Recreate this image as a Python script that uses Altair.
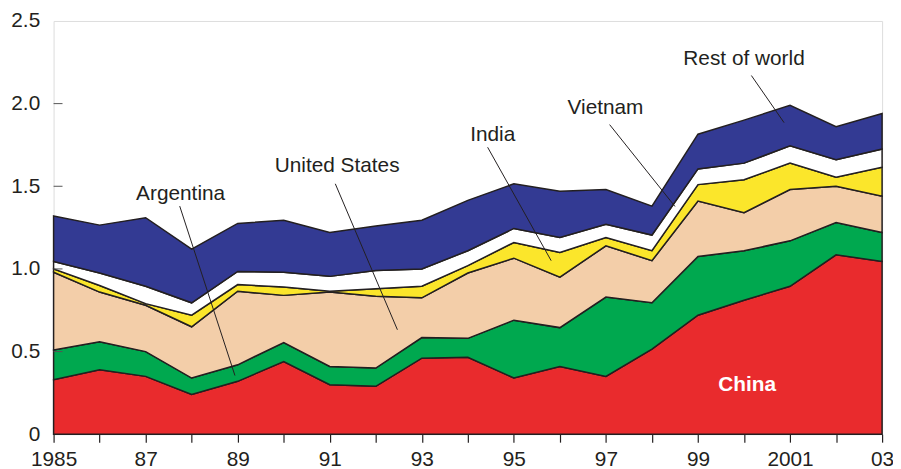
import altair as alt
import pandas as pd

years = list(range(1985, 2004))
series = ["China", "Argentina", "United States", "India", "Vietnam", "Rest of world"]
colors = ["#e92b2d", "#00a84f", "#f3cea9", "#fbe62b", "#ffffff", "#333a93"]

china = [0.33, 0.39, 0.35, 0.24, 0.32, 0.44, 0.30, 0.29, 0.46, 0.465, 0.34, 0.41, 0.35, 0.515, 0.72, 0.81, 0.895, 1.085, 1.045]
argentina = [0.18, 0.17, 0.15, 0.10, 0.10, 0.115, 0.11, 0.11, 0.125, 0.115, 0.35, 0.235, 0.48, 0.28, 0.355, 0.30, 0.275, 0.195, 0.175]
united_states = [0.47, 0.30, 0.28, 0.31, 0.445, 0.285, 0.45, 0.435, 0.24, 0.395, 0.375, 0.305, 0.31, 0.255, 0.335, 0.23, 0.31, 0.22, 0.22]
india = [0.02, 0.04, 0.01, 0.07, 0.04, 0.05, 0.005, 0.045, 0.07, 0.045, 0.095, 0.15, 0.05, 0.06, 0.10, 0.20, 0.16, 0.055, 0.175]
vietnam = [0.045, 0.075, 0.105, 0.075, 0.08, 0.09, 0.09, 0.11, 0.105, 0.09, 0.085, 0.09, 0.08, 0.095, 0.095, 0.10, 0.105, 0.105, 0.11]
rest_of_world = [0.275, 0.29, 0.415, 0.325, 0.29, 0.315, 0.265, 0.27, 0.295, 0.305, 0.27, 0.28, 0.21, 0.175, 0.21, 0.26, 0.245, 0.20, 0.215]

x_tick_labels = {1985: "1985", 1987: "87", 1989: "89", 1991: "91", 1993: "93",
                 1995: "95", 1997: "97", 1999: "99", 2001: "2001", 2003: "03"}
y_ticks = [0, 0.5, 1.0, 1.5, 2.0, 2.5]

# annotation labels (data coordinates)
ann_text = ["Argentina", "United States", "India", "Vietnam", "Rest of world"]
ann_x = [1987.76, 1991.16, 1994.54, 1996.99, 2000.0]
ann_y = [1.45, 1.62, 1.81, 1.975, 2.27]
lead_x1 = [1987.74, 1991.12, 1994.43, 1997.08, 2000.16]
lead_y1 = [1.38, 1.515, 1.736, 1.873, 2.17]
lead_x2 = [1988.94, 1992.47, 1995.81, 1998.50, 2000.87]
lead_y2 = [0.355, 0.632, 1.05, 1.378, 1.885]

values = [china, argentina, united_states, india, vietnam, rest_of_world]
rows = []
for i, (name, vals) in enumerate(zip(series, values)):
    for yr, v in zip(years, vals):
        rows.append({"year": yr, "series": name, "idx": i, "value": v})
df = pd.DataFrame(rows)

ann_df = pd.DataFrame({"x": ann_x, "y": ann_y, "text": ann_text})
lead_df = pd.DataFrame({"x": lead_x1, "y": lead_y1, "x2": lead_x2, "y2": lead_y2})
china_df = pd.DataFrame({"x": [2000.07], "y": [0.30], "text": ["China"]})
ytick_df = pd.DataFrame({"v": [t for t in y_ticks if 0 < t < 2.5]})

label_expr = " : ".join(
    [f"datum.value == {k} ? '{v}'" for k, v in x_tick_labels.items()]
) + " : ''"

FONT = "Liberation Sans"
INK = "#231f20"

x_scale = alt.Scale(domain=[1985, 2003], nice=False, zero=False)
y_scale = alt.Scale(domain=[0, 2.5], nice=False)

areas = alt.Chart(df).mark_area(
    stroke=INK, strokeWidth=1.5, strokeJoin="miter", opacity=1
).encode(
    x=alt.X("year:Q", scale=x_scale,
            axis=alt.Axis(values=years, labelExpr=label_expr, title=None,
                          tickSize=8, tickColor=INK, tickWidth=1.2,
                          labelPadding=7, labelFlush=False, labelFont=FONT,
                          labelFontSize=21, labelColor=INK, grid=False,
                          domain=False, labelOverlap=False)),
    y=alt.Y("value:Q", stack="zero", scale=y_scale,
            axis=alt.Axis(values=y_ticks, title=None, ticks=False,
                          labelExpr="datum.value == 0 ? '0' : format(datum.value, '.1f')",
                          labelPadding=14, labelFont=FONT, labelFontSize=21,
                          labelColor=INK, grid=False, domain=False)),
    color=alt.Color("series:N", scale=alt.Scale(domain=series, range=colors), legend=None),
    order=alt.Order("idx:Q", sort="ascending"),
)

yticks = alt.Chart(ytick_df).mark_rule(color="#555555", strokeWidth=1).encode(
    y=alt.Y("v:Q", scale=y_scale),
    x=alt.value(0),
    x2=alt.value(9),
)

leaders = alt.Chart(lead_df).mark_rule(color=INK, strokeWidth=1).encode(
    x=alt.X("x:Q", scale=x_scale),
    y=alt.Y("y:Q", scale=y_scale),
    x2="x2:Q",
    y2="y2:Q",
)

labels = alt.Chart(ann_df).mark_text(
    font=FONT, fontSize=21, color=INK, align="center", baseline="middle"
).encode(
    x=alt.X("x:Q", scale=x_scale),
    y=alt.Y("y:Q", scale=y_scale),
    text="text:N",
)

china_label = alt.Chart(china_df).mark_text(
    font=FONT, fontSize=21, fontWeight="bold", color="white",
    align="center", baseline="middle"
).encode(
    x=alt.X("x:Q", scale=x_scale),
    y=alt.Y("y:Q", scale=y_scale),
    text="text:N",
)

chart = alt.layer(areas, yticks, leaders, labels, china_label).properties(
    width=836,
    height=417,
    autosize=alt.AutoSizeParams(type="none"),
    padding={"left": 46, "top": 11, "right": 11, "bottom": 33},
).configure_view(
    stroke=INK, strokeWidth=1.5
).configure(background="white")

chart.save("out.html", embed_options={"renderer": "svg", "actions": False})
